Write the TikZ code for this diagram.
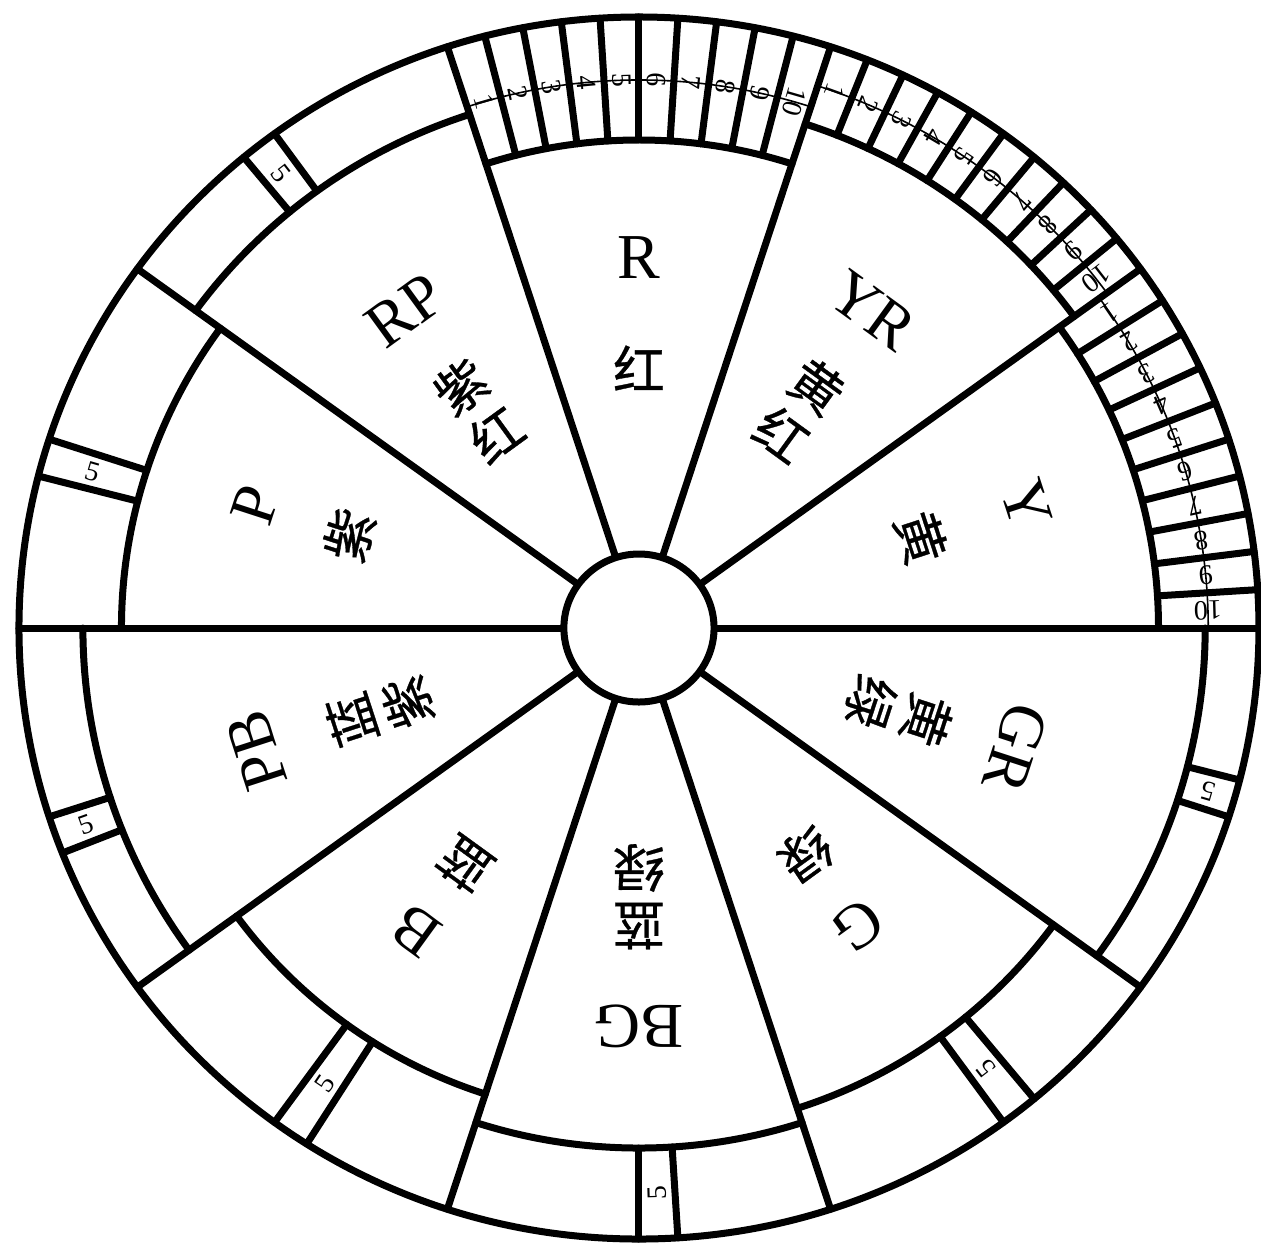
\documentclass[tikz,border=0pt]{standalone}
\usepackage{fontspec}
\setmainfont{Liberation Serif}
\newfontfamily\cjk{Noto Sans CJK SC}[FakeBold=0.6]
\begin{document}
\begin{tikzpicture}[x=1.0147pt,y=1pt,line width=7pt,line cap=round,
  thin rule/.style={line width=1.6pt},
  hue code/.style={font=\fontsize{64}{64}\selectfont,inner sep=0pt},
  hue name/.style={font=\cjk\fontsize{52}{52}\selectfont,inner sep=0pt},
  step num/.style={font=\fontsize{28}{28}\selectfont,inner sep=0pt}]
  \useasboundingbox (-629.7,-618) rectangle (613,628);
  \draw (0,0) circle (611);
  \foreach \a in {0,36,...,324}
    \draw (\a:74) -- (\a:611);
  \foreach \c/\r in {90/488,54/530,18/512,-18/558,-54/505,-90/520,-126/490,-162/548,162/510,126/540}
    \draw ({\c-18}:\r) arc[start angle=\c-18,end angle=\c+18,radius=\r];
  \foreach \s/\r/\m in {108/488/548,72/530/570,36/512/561} {
    \foreach \i in {1,...,9}
      \draw ({\s-3.6*\i}:\r) -- ({\s-3.6*\i}:611);
    \draw[thin rule] ({\s-36}:\m) arc[start angle=\s-36,end angle=\s,radius=\m];
    \foreach \i in {1,...,10}
      \node[step num,rotate=\s-3.6*\i+1.8-180] (num-\s-\i) at ({\s-3.6*\i+1.8}:\m) {\i};
  }
  \foreach \c/\r in {-18/558,-54/505,-90/520,-126/490,-162/548,162/510,126/540} {
    \draw (\c:\r) -- (\c:611);
    \draw ({\c+3.6}:\r) -- ({\c+3.6}:611);
    \node[step num,rotate=\c+1.8-180] (five-\c) at ({\c+1.8}:{(\r+611)/2}) {5};
  }
  \draw[fill=white] (0,0) circle (74);
  \foreach \c/\code/\rc in {90/R/370,54/YR/392,18/Y/402,-18/GR/390,-54/G/368,-90/BG/398,-126/B/374,-162/PB/396,162/P/398,126/RP/392}
    \node[hue code,rotate=\c-90] (code-\code) at (\c:\rc) {\code};
  \foreach \c/\name/\rn in {90/红/260,18/黄/292,-54/绿/280,-126/蓝/292,162/紫/300}
    \node[hue name,rotate=\c-90] (name-\c) at (\c:\rn) {\name};
  \foreach \c/\first/\second in {54/黄/红,-18/黄/绿,-90/蓝/绿,-162/蓝/紫,126/紫/红} {
    \node[hue name,rotate=\c-90] (name-\c-a) at (\c:298) {\first};
    \node[hue name,rotate=\c-90] (name-\c-b) at (\c:240) {\second};
  }
\end{tikzpicture}
\end{document}
